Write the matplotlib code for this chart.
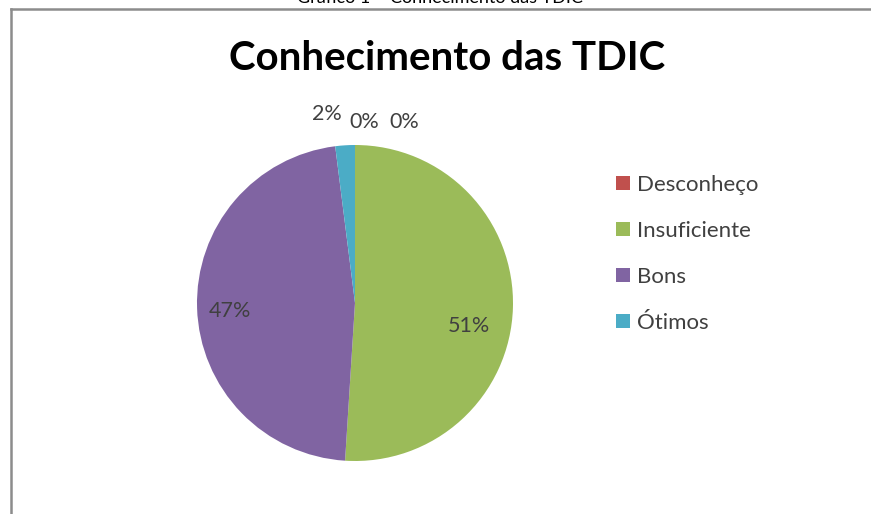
import matplotlib.pyplot as plt
from matplotlib.lines import Line2D

plt.rcParams['font.family'] = ['Lato', 'DejaVu Sans']

# --- data ---
categories = ["Desconheço", "Insuficiente", "Bons", "Ótimos"]
percentages = [0, 51, 47, 2]
colors = ["#C0504D", "#9BBB59", "#8064A2", "#4BACC6"]

# label text + position (pixels in the 871x514 picture)
label_texts = ["2%", "0%", "0%", "47%", "51%"]
label_pos = [(327, 114), (364, 122), (404, 122), (230, 311), (469, 326)]

W, H = 871, 514
fig = plt.figure(figsize=(W / 100, H / 100), dpi=100)

# chart frame (only top and left edges visible)
fig.add_artist(Line2D([11 / W, 1], [1 - 9 / H, 1 - 9 / H], color="#8c8c8c", lw=1.8))
fig.add_artist(Line2D([11 / W, 11 / W], [0, 1 - 9 / H], color="#8c8c8c", lw=1.8))

# caption above the chart, cut by the top edge as in the original
fig.text(440 / W, 1 - 3 / H, "Gráfico 1 – Conhecimento das TDIC", ha="center",
         va="baseline", fontsize=13, color="black")

fig.text(447 / W, 1 - 58 / H, "Conhecimento das TDIC", ha="center", va="center",
         fontsize=29, fontweight="bold", color="black")

# pie
cx, cy, r = 355, 303, 158
ax = fig.add_axes([(cx - r) / W, (H - cy - r) / H, 2 * r / W, 2 * r / H])
wedges, _ = ax.pie(percentages, colors=colors, startangle=90, counterclock=False,
                   radius=1.0, wedgeprops=dict(linewidth=0))
for w in wedges:
    w.set_clip_on(False)
ax.set_xlim(-1, 1)
ax.set_ylim(-1, 1)
ax.set_aspect("equal")
ax.axis("off")

for txt, (px, py) in zip(label_texts, label_pos):
    fig.text(px / W, 1 - py / H, txt, ha="center", va="center",
             fontsize=15.5, color="#404040")

fig.legend(wedges, categories, loc="upper left", bbox_to_anchor=(607 / W, 1 - 166 / H),
           frameon=False, fontsize=16, labelspacing=1.17, handlelength=0.63,
           handleheight=0.63, handletextpad=0.32, borderaxespad=0, labelcolor="#404040")

fig.savefig("out.png", dpi=100, facecolor="white")
